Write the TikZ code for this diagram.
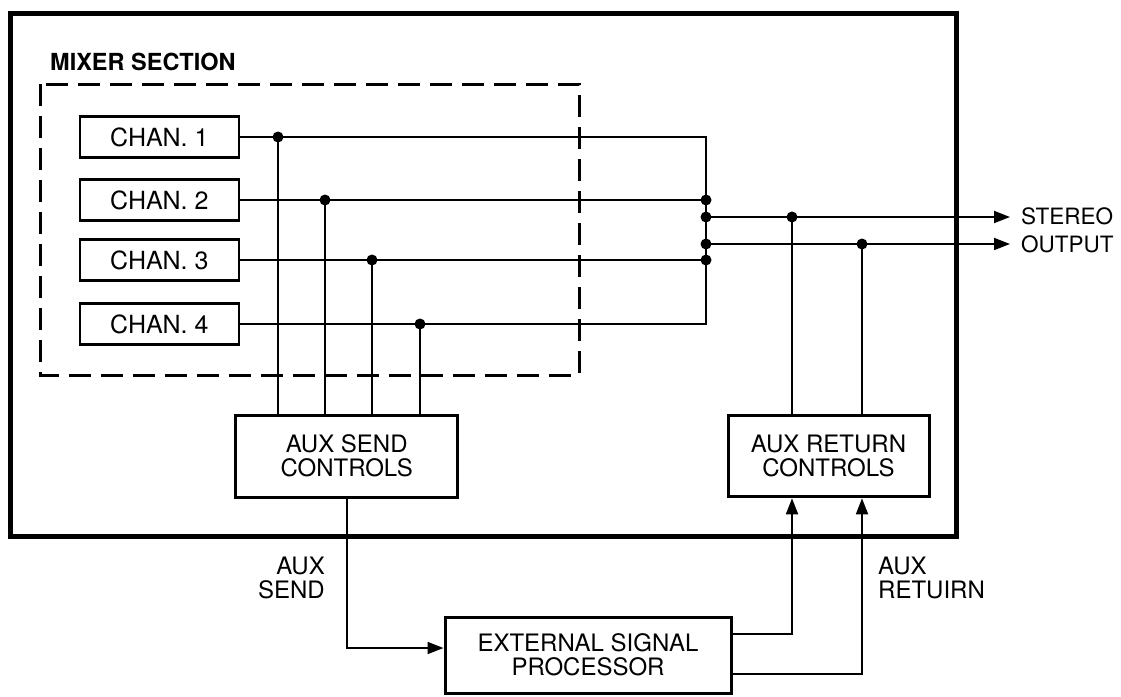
\documentclass[tikz,border=0pt]{standalone}
\usepackage{fontspec}
\setmainfont{TeX Gyre Heros}
\usetikzlibrary{arrows.meta}
\begin{document}
\begin{tikzpicture}[x=1pt,y=-1pt,
  wire/.style={line width=1.8pt},
  frame/.style={line width=5pt},
  mixbox/.style={line width=3pt,dash pattern=on 22pt off 10pt},
  chanbox/.style={draw,line width=2.4pt,minimum width=159pt,minimum height=41pt,inner sep=0pt,font=\fontsize{25}{26}\selectfont},
  ctrlbox/.style={draw,line width=3pt,inner sep=0pt,align=center,font=\fontsize{24}{24}\selectfont},
  lbl/.style={inner sep=0pt,font=\fontsize{24}{24}\selectfont},
  outlbl/.style={inner sep=0pt,align=left,font=\fontsize{22.5}{27.5}\selectfont},
  title/.style={inner sep=0pt,font=\fontsize{23.5}{26}\selectfont\bfseries},
  jdot/.style={circle,fill,inner sep=0pt,minimum size=11pt},
  arr/.style={-{Triangle[length=16pt,width=12pt]}}
]
\useasboundingbox (0,0) rectangle (1121,696);

% outer frame and mixer section
\draw[frame] (10,13) rectangle (956,536);
\node[title,anchor=west] (mixt) at (50,62) {MIXER SECTION};
\draw[mixbox] (40,84) rectangle (579,375);

% channel boxes
\node[chanbox] (c1) at (159.3,137) {CHAN. 1};
\node[chanbox] (c2) at (159.3,200) {CHAN. 2};
\node[chanbox] (c3) at (159.3,260) {CHAN. 3};
\node[chanbox] (c4) at (159.3,324) {CHAN. 4};

% control and processor boxes
\node[ctrlbox,minimum width=222pt,minimum height=82pt] (as) at (346.7,456) {AUX SEND\\CONTROLS};
\node[ctrlbox,minimum width=201pt,minimum height=81pt] (ar) at (828.5,456.3) {AUX RETURN\\CONTROLS};
\node[ctrlbox,minimum width=286pt,minimum height=76pt] (esp) at (588,655) {EXTERNAL SIGNAL\\PROCESSOR};

% junction coordinates
\coordinate (j1) at (278,137);
\coordinate (j2) at (325,200);
\coordinate (j3) at (372,260);
\coordinate (j4) at (420,324);
\coordinate (bt) at (706,137);
\coordinate (bb) at (706,324);
\coordinate (b2) at (706,200);
\coordinate (b3) at (706,260);
\coordinate (s1) at (706,217);
\coordinate (s2) at (706,244);
\coordinate (t1) at (1010,217);
\coordinate (t2) at (1010,244);
\coordinate (r1) at (792,217);
\coordinate (r2) at (862,244);
\coordinate (sendc) at (346,648);
\coordinate (retA) at (731,634);
\coordinate (retB) at (731,674);

% channel buses
\draw[wire] (c1.east) -- (bt) -- (bb) -- (c4.east);
\draw[wire] (c2.east) -- (b2);
\draw[wire] (c3.east) -- (b3);

% sends to aux send controls
\draw[wire] (j1) -- (j1 |- as.north);
\draw[wire] (j2) -- (j2 |- as.north);
\draw[wire] (j3) -- (j3 |- as.north);
\draw[wire] (j4) -- (j4 |- as.north);

% stereo outputs
\draw[wire,arr] (s1) -- (t1);
\draw[wire,arr] (s2) -- (t2);
\draw[wire] (ar.north -| r1) -- (r1);
\draw[wire] (ar.north -| r2) -- (r2);

% external loop
\draw[wire,arr] (as.south) |- (esp.west |- sendc);
\draw[wire,arr] (retA) -| (ar.south -| r1);
\draw[wire,arr] (retB) -| (ar.south -| r2);

% dots
\foreach \p in {j1,j2,j3,j4,b2,b3,s1,s2,r1,r2}
  \node[jdot] at (\p) {};

% labels
\node[outlbl,anchor=west] (so) at (1021,230.5) {STEREO\\OUTPUT};
\node[lbl,align=right,anchor=east] (asl) at (325,577.5) {AUX\\SEND};
\node[lbl,align=left,anchor=west] (arl) at (878,577.5) {AUX\\RETUIRN};
\end{tikzpicture}
\end{document}
